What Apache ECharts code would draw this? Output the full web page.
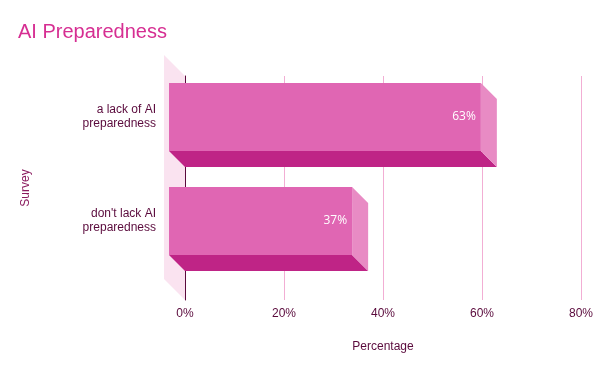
<!DOCTYPE html>
<html><head><meta charset="utf-8">
<script src="https://cdn.jsdelivr.net/npm/echarts@6/dist/echarts.min.js"></script>
<style>html,body{margin:0;padding:0;background:#fff}#c{width:600px;height:371px}</style>
</head><body><div id="c"></div>
<script>
const categories = ['a lack of AI\npreparedness', "don't lack AI\npreparedness"];
const values = [63, 37];
const xTicks = [0, 20, 40, 60, 80];
const titleText = 'AI Preparedness';
const xName = 'Percentage';
const yName = 'Survey';

const FONT = '"Liberation Sans", Arial, sans-serif';
const DARK = '#5a0a3c';
const DEPTH = 16, WALL = 21;

const chart = echarts.init(document.getElementById('c'), null, {renderer: 'canvas'});
const barData = values.map((v, i) => [v, i]);

chart.setOption({
  animation: false,
  title: {text: titleText, left: 18, top: 22, padding: 0,
    textStyle: {color: '#d62e92', fontSize: 20, fontWeight: 'normal', fontFamily: FONT}},
  grid: [
    {left: 169, right: 35, top: 65, height: 208, containLabel: false},
    {left: 185, right: 19, top: 76, bottom: 71, containLabel: false}
  ],
  xAxis: [
    {gridIndex: 0, type: 'value', min: xTicks[0], max: xTicks[xTicks.length-1], interval: 20, show: false},
    {gridIndex: 1, type: 'value', min: xTicks[0], max: xTicks[xTicks.length-1], interval: 20,
      axisLine: {show: false}, axisTick: {show: false},
      axisLabel: {formatter: v => v + '%', color: DARK, fontSize: 12, fontFamily: FONT, margin: 8},
      splitLine: {show: true, lineStyle: {color: '#f2aed4', width: 1}},
      name: xName, nameLocation: 'middle', nameGap: 41,
      nameTextStyle: {color: DARK, fontSize: 12, fontFamily: FONT}}
  ],
  yAxis: [
    {gridIndex: 0, type: 'category', data: categories, inverse: true,
      axisLine: {show: false}, axisTick: {show: false}, splitLine: {show: false},
      axisLabel: {color: DARK, fontSize: 12, fontFamily: FONT, margin: 13, lineHeight: 14, align: 'right'}},
    {gridIndex: 1, type: 'value', min: 0, max: 1, z: 1,
      axisLine: {show: true, onZero: false, lineStyle: {color: DARK, width: 1}},
      axisTick: {show: false}, axisLabel: {show: false}, splitLine: {show: false},
      name: yName, nameLocation: 'middle', nameGap: 153, nameRotate: 90,
      nameTextStyle: {color: '#8a1a5e', fontSize: 12, fontFamily: FONT}}
  ],
  series: [
    {
      type: 'custom', xAxisIndex: 1, yAxisIndex: 1, z: 0, silent: true,
      data: [[0, 0]],
      renderItem: function (params, api) {
        const top = api.coord([0, 1]);
        const bot = api.coord([0, 0]);
        return {type: 'polygon', shape: {points: [
          [top[0], top[1]], [top[0] - WALL, top[1] - WALL],
          [bot[0] - WALL, bot[1] - WALL], [bot[0], bot[1]]]},
          style: {fill: '#fae3f0'}};
      }
    },
    {
      type: 'custom', xAxisIndex: 0, yAxisIndex: 0, z: 3,
      encode: {x: 0, y: 1},
      data: barData,
      renderItem: function (params, api) {
        const cat = api.value(1);
        const s = api.coord([0, cat]);
        const e = api.coord([api.value(0), cat]);
        const h = api.size([0, 1])[1] * 0.654;
        const x0 = s[0], x1 = e[0], yT = s[1] - h / 2, yB = s[1] + h / 2, d = DEPTH;
        return {type: 'group', children: [
          {type: 'polygon', shape: {points: [[x0, yB], [x1, yB], [x1 + d, yB + d], [x0 + d, yB + d]]},
            style: {fill: '#bf2486'}},
          {type: 'polygon', shape: {points: [[x1, yT], [x1 + d, yT + d], [x1 + d, yB + d], [x1, yB]]},
            style: {fill: '#e88bc4'}},
          {type: 'rect', shape: {x: x0, y: yT, width: x1 - x0, height: h},
            style: {fill: '#e066b3'}},
          {type: 'text', style: {text: api.value(0) + '%', x: x1 - 5, y: s[1],
            align: 'right', verticalAlign: 'middle', fill: '#ffffff', fontSize: 12, fontFamily: '"Open Sans", "Noto Sans", sans-serif'}}
        ]};
      }
    }
  ]
});
</script></body></html>
